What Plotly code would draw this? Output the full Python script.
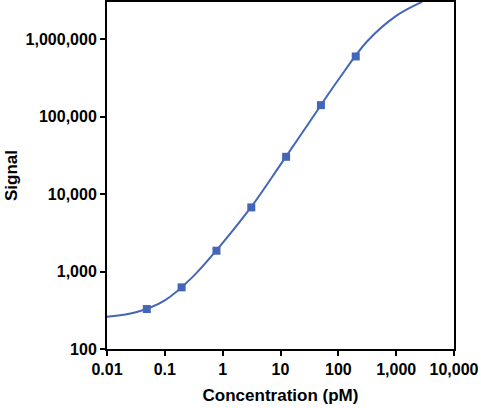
import plotly.graph_objects as go

# measured standards (4-fold dilution series)
conc = [0.0488, 0.195, 0.781, 3.125, 12.5, 50, 200]
signal = [328, 625, 1857, 6730, 30300, 140700, 598000]

# fitted curve
fit_conc = [0.01, 0.0316, 0.1, 0.316, 1, 3.16, 10, 31.6, 100, 316, 1000, 2800]
fit_signal = [260, 298, 425, 880, 2345, 6930, 24000, 84700, 299000, 940000, 2000000, 3030000]

x_ticks = [0.01, 0.1, 1, 10, 100, 1000, 10000]
x_labels = ["0.01", "0.1", "1", "10", "100", "1,000", "10,000"]
y_ticks = [100, 1000, 10000, 100000, 1000000]
y_labels = ["100", "1,000", "10,000", "100,000", "1,000,000"]

blue = "#4466b8"
font = "Liberation Sans, Arial, sans-serif"

fig = go.Figure()
fig.add_trace(go.Scatter(x=fit_conc, y=fit_signal, mode="lines",
                         line=dict(color=blue, width=2, shape="spline", smoothing=1),
                         hoverinfo="skip"))
fig.add_trace(go.Scatter(x=conc, y=signal, mode="markers",
                         marker=dict(symbol="square", size=8, color=blue)))

axis_common = dict(
    type="log", showgrid=False, zeroline=False, automargin=False,
    showline=True, linecolor="black", linewidth=2, mirror=True,
    ticks="outside", ticklen=5, tickwidth=2, tickcolor="black",
    tickfont=dict(family=font, size=16, color="black", weight="bold"),
)

fig.update_layout(
    template="none",
    width=481, height=408,
    margin=dict(l=107, r=27, t=2, b=59),
    paper_bgcolor="white", plot_bgcolor="white",
    showlegend=False,
    xaxis=dict(axis_common, range=[-2, 4], tickvals=x_ticks, ticktext=x_labels,
               title=dict(text="Concentration (pM)", standoff=12,
                          font=dict(family=font, size=17, color="black", weight="bold"))),
    yaxis=dict(axis_common, range=[2, 6.48], tickvals=y_ticks, ticktext=y_labels,
               title=dict(text="Signal", standoff=4,
                          font=dict(family=font, size=17, color="black", weight="bold"))),
)

# drop the default page margin so the figure sits flush in the window
fig.write_html("out.html", config={"displayModeBar": False},
               post_script="document.body.style.margin='0';")
